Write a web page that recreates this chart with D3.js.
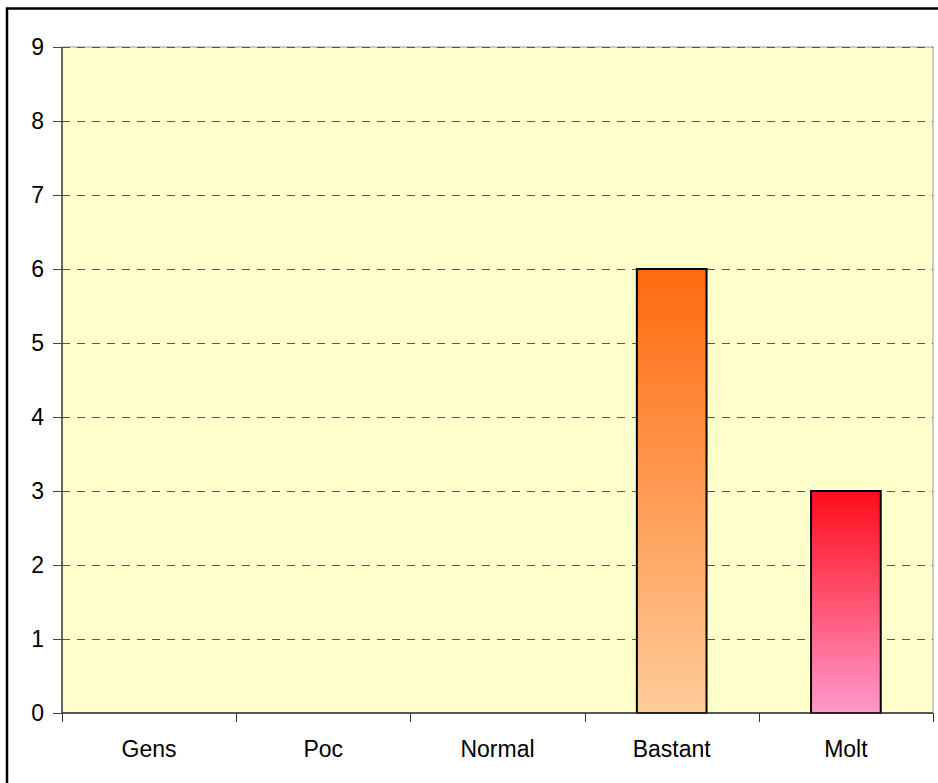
<!DOCTYPE html>
<html>
<head>
<meta charset="utf-8">
<script src="https://cdn.jsdelivr.net/npm/d3@7"></script>
<style>
  body { margin: 0; background: #fff; }
  svg { display: block; }
</style>
</head>
<body>
<svg id="chart" width="938" height="783"></svg>
<script>
var categories = ["Gens", "Poc", "Normal", "Bastant", "Molt"]
var values = [0, 0, 0, 6, 3]
var yTicks = [0, 1, 2, 3, 4, 5, 6, 7, 8, 9]
// gradient per bar: top colour, bottom colour
var barTop = ["#ff6a0e", "#ff6a0e", "#ff6a0e", "#ff6a0e", "#ff0d1a"]
var barBottom = ["#ffcc99", "#ffcc99", "#ffcc99", "#ffcc99", "#ff99cc"]

var svg = d3.select('#chart')
// plot box (window.top is taken, so other names)
var pLeft = 62, pTop = 47, pRight = 933, pBottom = 713

// outer chart frame, runs off the right and bottom of the picture
svg.append('rect')
    .attr('x', 7).attr('y', 8.5)
    .attr('width', 960).attr('height', 820)
    .attr('fill', 'none')
    .attr('stroke', '#000')
    .attr('stroke-width', 2.5)

var x = d3.scaleBand()
    .domain(categories)
    .range([pLeft, pRight])
    .paddingInner(0.6)
    .paddingOuter(0.3)

var y = d3.scaleLinear()
    .domain([0, 9])
    .range([pBottom, pTop])

svg.append('rect')
    .attr('x', pLeft).attr('y', pTop)
    .attr('width', pRight - pLeft).attr('height', pBottom - pTop)
    .attr('fill', '#ffffcc')
    .attr('stroke', '#999')
    .attr('stroke-width', 1)

svg.append('g')
    .selectAll('line')
    .data(yTicks.slice(1))
    .join('line')
    .attr('x1', pLeft).attr('x2', pRight)
    .attr('y1', d => Math.round(y(d)) + 0.5)
    .attr('y2', d => Math.round(y(d)) + 0.5)
    .attr('stroke', '#555')
    .attr('stroke-dasharray', '8,7')

var defs = svg.append('defs')
categories.forEach(function(c, i) {
    var g = defs.append('linearGradient')
        .attr('id', 'grad' + i)
        .attr('x1', 0).attr('y1', 0).attr('x2', 0).attr('y2', 1)
    g.append('stop').attr('offset', '0%').attr('stop-color', barTop[i])
    g.append('stop').attr('offset', '100%').attr('stop-color', barBottom[i])
})

svg.append('g')
    .selectAll('rect')
    .data(values.map((v, i) => ({ c: categories[i], v: v, i: i })).filter(d => d.v > 0))
    .join('rect')
    .attr('x', d => x(d.c))
    .attr('y', d => y(d.v))
    .attr('width', x.bandwidth())
    .attr('height', d => y(0) - y(d.v))
    .attr('fill', d => 'url(#grad' + d.i + ')')
    .attr('stroke', '#000')
    .attr('stroke-width', 2)

// category axis
var xEdge = d3.scaleLinear().domain([0, categories.length]).range([pLeft, pRight])
var xAxis = svg.append('g')
xAxis.append('line')
    .attr('x1', pLeft).attr('x2', pRight)
    .attr('y1', pBottom).attr('y2', pBottom)
    .attr('stroke', '#333').attr('stroke-width', 1.5)
xAxis.selectAll('.tick')
    .data(d3.range(categories.length + 1))
    .join('line')
    .attr('x1', d => Math.round(xEdge(d)) + 0.5)
    .attr('x2', d => Math.round(xEdge(d)) + 0.5)
    .attr('y1', pBottom).attr('y2', pBottom + 9)
    .attr('stroke', '#333')
xAxis.selectAll('text')
    .data(categories)
    .join('text')
    .attr('x', d => x(d) + x.bandwidth() / 2)
    .attr('y', 757)
    .attr('text-anchor', 'middle')
    .attr('font-family', 'Liberation Sans, Arial, sans-serif')
    .attr('font-size', 23)
    .attr('fill', '#000')
    .text(d => d)

// value axis
var yAxis = svg.append('g')
yAxis.append('line')
    .attr('x1', pLeft).attr('x2', pLeft)
    .attr('y1', pTop).attr('y2', pBottom)
    .attr('stroke', '#444').attr('stroke-width', 1.5)
yAxis.selectAll('line.tick')
    .data(yTicks)
    .join('line')
    .attr('class', 'tick')
    .attr('x1', pLeft - 9).attr('x2', pLeft)
    .attr('y1', d => Math.round(y(d)) + 0.5)
    .attr('y2', d => Math.round(y(d)) + 0.5)
    .attr('stroke', '#444')
yAxis.selectAll('text')
    .data(yTicks)
    .join('text')
    .attr('x', 44)
    .attr('y', d => y(d))
    .attr('dy', '0.35em')
    .attr('text-anchor', 'end')
    .attr('font-family', 'Liberation Sans, Arial, sans-serif')
    .attr('font-size', 23)
    .attr('fill', '#000')
    .text(d => d)
</script>
</body>
</html>
